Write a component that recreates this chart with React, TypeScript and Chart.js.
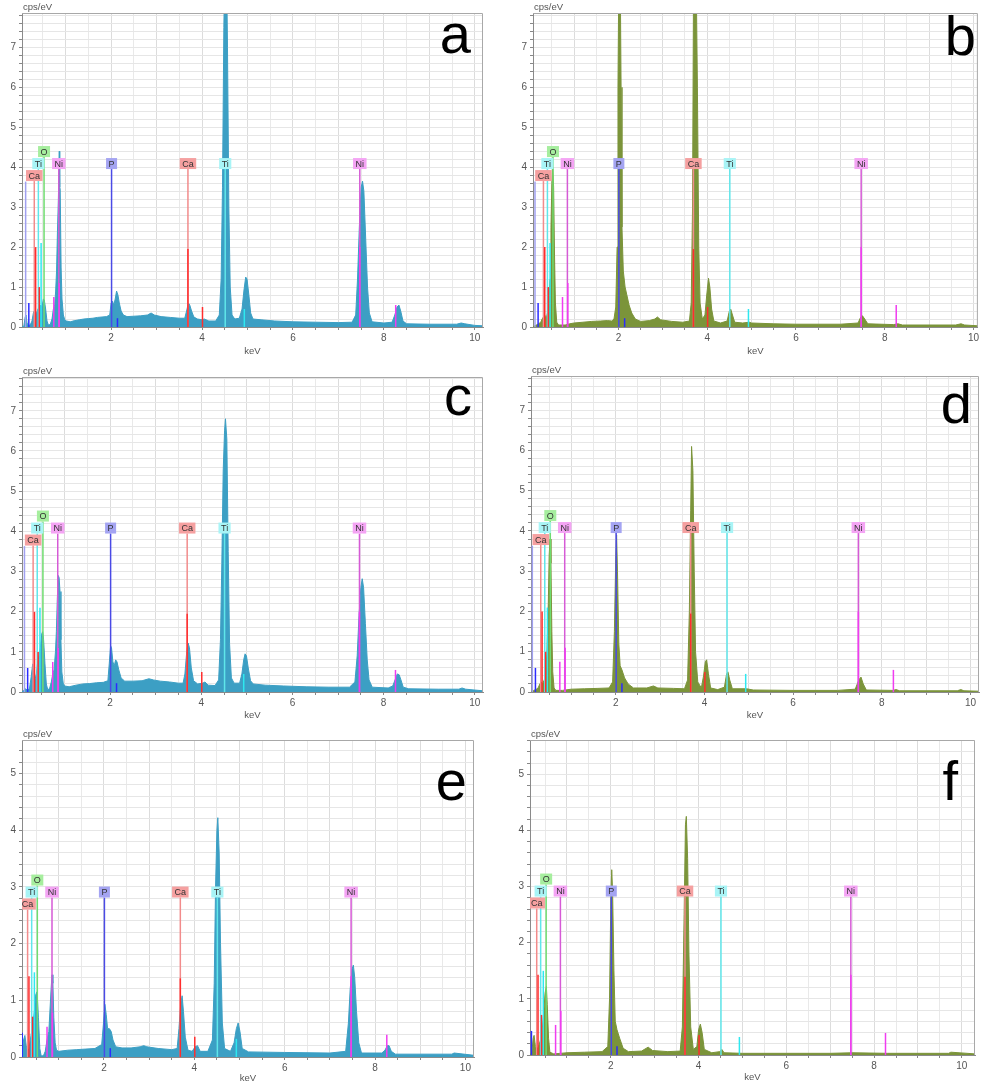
import React, { useEffect, useRef } from 'react';
import { Chart, registerables } from 'chart.js';

Chart.register(...registerables);

const FONT = '"Liberation Sans", Arial, Helvetica, sans-serif';
Chart.defaults.font.family = FONT;

const BLUE = '#3c9fc4';
const OLIVE = '#7b943a';

// ---------- spectra: [keV, cps/eV] ----------
const specA: [number, number][] = [
  [0.04, 0], [0.08, 0.02], [0.11, 0.25], [0.13, 0.3], [0.15, 0.1], [0.18, 0.04], [0.22, 0.05], [0.26, 0.15],
  [0.29, 0.35], [0.31, 0.4], [0.33, 0.3], [0.36, 0.35], [0.39, 0.45], [0.42, 0.5], [0.45, 0.55], [0.48, 0.5],
  [0.51, 0.7], [0.53, 0.68], [0.56, 0.45], [0.59, 0.15], [0.62, 0.05], [0.66, 0.06], [0.7, 0.2], [0.73, 0.45],
  [0.76, 0.55], [0.78, 0.9], [0.8, 1.4], [0.82, 2.4], [0.84, 3.2], [0.86, 4.4], [0.87, 3.5], [0.88, 3.45],
  [0.9, 1.5], [0.92, 0.7], [0.95, 0.3], [0.98, 0.18], [1.02, 0.15], [1.1, 0.13], [1.2, 0.16], [1.3, 0.18],
  [1.4, 0.2], [1.5, 0.21], [1.6, 0.22], [1.7, 0.24], [1.8, 0.25], [1.9, 0.26], [1.97, 0.3], [2.0, 0.6],
  [2.03, 0.65], [2.06, 0.55], [2.09, 0.7], [2.12, 0.9], [2.15, 0.8], [2.18, 0.6], [2.22, 0.4], [2.27, 0.3],
  [2.35, 0.26], [2.5, 0.27], [2.65, 0.28], [2.8, 0.3], [2.88, 0.35], [2.95, 0.3], [3.1, 0.26], [3.3, 0.24],
  [3.5, 0.22], [3.62, 0.22], [3.66, 0.4], [3.7, 0.6], [3.73, 0.55], [3.77, 0.4], [3.82, 0.25], [3.9, 0.2],
  [4.0, 0.18], [4.05, 0.2], [4.15, 0.15], [4.3, 0.15], [4.38, 0.3], [4.42, 1.2], [4.45, 3.5], [4.48, 7.5],
  [4.5, 9], [4.54, 9], [4.56, 7], [4.59, 3.0], [4.62, 1.0], [4.66, 0.3], [4.72, 0.2], [4.82, 0.22],
  [4.88, 0.45], [4.92, 0.9], [4.96, 1.25], [4.99, 1.2], [5.03, 0.8], [5.07, 0.35], [5.12, 0.2], [5.3, 0.18],
  [5.6, 0.15], [6.0, 0.13], [6.5, 0.12], [7.0, 0.11], [7.3, 0.12], [7.38, 0.3], [7.42, 1.2], [7.46, 2.5],
  [7.5, 3.5], [7.53, 3.65], [7.56, 3.4], [7.6, 2.2], [7.64, 1.0], [7.68, 0.35], [7.74, 0.13], [8.0, 0.1],
  [8.18, 0.12], [8.24, 0.3], [8.29, 0.5], [8.33, 0.55], [8.37, 0.4], [8.42, 0.15], [8.5, 0.08], [9.0, 0.07],
  [9.6, 0.07], [9.7, 0.1], [9.78, 0.08], [10.0, 0.04], [10.18, 0.03],
];

const specB: [number, number][] = [
  [0.075, 0], [0.1, 0.02], [0.15, 0.05], [0.2, 0.08], [0.25, 0.12], [0.28, 0.2], [0.31, 0.25], [0.34, 0.3],
  [0.37, 0.2], [0.4, 0.35], [0.43, 0.5], [0.46, 1.2], [0.48, 2.5], [0.5, 3.6], [0.52, 4.0], [0.54, 3.5],
  [0.56, 1.8], [0.58, 0.6], [0.61, 0.12], [0.65, 0.05], [0.8, 0.05], [0.9, 0.08], [1.0, 0.1], [1.2, 0.12],
  [1.4, 0.14], [1.6, 0.15], [1.75, 0.16], [1.85, 0.15], [1.9, 0.2], [1.94, 0.5], [1.97, 2.0], [1.99, 6.0],
  [2.01, 9], [2.04, 9], [2.06, 6], [2.08, 2.5], [2.11, 1.4], [2.15, 1.0], [2.19, 0.8], [2.24, 0.55],
  [2.3, 0.35], [2.38, 0.2], [2.5, 0.14], [2.7, 0.16], [2.82, 0.2], [2.88, 0.25], [2.95, 0.18], [3.2, 0.14],
  [3.45, 0.12], [3.6, 0.15], [3.64, 0.6], [3.67, 3.0], [3.69, 8], [3.71, 9], [3.75, 9], [3.78, 6],
  [3.81, 2], [3.84, 0.6], [3.89, 0.2], [3.95, 0.3], [3.99, 0.8], [4.03, 1.22], [4.06, 1.0], [4.1, 0.45],
  [4.15, 0.15], [4.3, 0.1], [4.45, 0.15], [4.5, 0.4], [4.53, 0.45], [4.57, 0.3], [4.62, 0.12], [4.8, 0.1],
  [4.95, 0.12], [5.0, 0.1], [5.5, 0.08], [6.0, 0.07], [7.0, 0.07], [7.4, 0.1], [7.46, 0.25], [7.5, 0.28],
  [7.55, 0.2], [7.62, 0.08], [8.2, 0.06], [8.3, 0.08], [8.4, 0.05], [9.6, 0.05], [9.72, 0.08], [9.8, 0.05],
  [10.1, 0.03],
];

const specC: [number, number][] = [
  [0.066, 0], [0.1, 0.04], [0.14, 0.08], [0.18, 0.05], [0.23, 0.08], [0.27, 0.4], [0.3, 0.7], [0.32, 0.45],
  [0.35, 0.3], [0.38, 0.45], [0.41, 0.75], [0.44, 0.9], [0.47, 1.1], [0.5, 1.45], [0.52, 1.5], [0.54, 1.3],
  [0.57, 0.7], [0.6, 0.2], [0.63, 0.06], [0.67, 0.08], [0.71, 0.25], [0.74, 0.45], [0.77, 0.55], [0.8, 1.0],
  [0.82, 1.5], [0.84, 2.3], [0.86, 2.9], [0.88, 2.85], [0.9, 2.5], [0.92, 1.3], [0.94, 0.5], [0.97, 0.22],
  [1.0, 0.15], [1.1, 0.13], [1.25, 0.17], [1.4, 0.2], [1.55, 0.21], [1.7, 0.23], [1.85, 0.24], [1.95, 0.28],
  [1.98, 0.7], [2.01, 1.15], [2.03, 1.1], [2.06, 0.75], [2.09, 0.65], [2.12, 0.8], [2.15, 0.75], [2.19, 0.55],
  [2.24, 0.35], [2.32, 0.27], [2.5, 0.27], [2.7, 0.28], [2.85, 0.33], [2.95, 0.3], [3.1, 0.27], [3.3, 0.25],
  [3.5, 0.22], [3.6, 0.22], [3.64, 0.45], [3.68, 1.0], [3.71, 1.22], [3.74, 1.1], [3.78, 0.6], [3.83, 0.28],
  [3.92, 0.2], [4.03, 0.22], [4.08, 0.25], [4.15, 0.17], [4.3, 0.16], [4.38, 0.3], [4.42, 1.3], [4.45, 3.2],
  [4.48, 5.5], [4.51, 6.5], [4.53, 6.8], [4.56, 6.3], [4.59, 3.5], [4.62, 1.2], [4.66, 0.35], [4.72, 0.22],
  [4.84, 0.22], [4.89, 0.45], [4.93, 0.8], [4.96, 0.95], [4.99, 0.9], [5.03, 0.6], [5.08, 0.28], [5.14, 0.2],
  [5.4, 0.17], [5.8, 0.15], [6.3, 0.13], [6.8, 0.12], [7.25, 0.12], [7.37, 0.25], [7.42, 0.9], [7.46, 1.9],
  [7.5, 2.6], [7.53, 2.82], [7.56, 2.6], [7.6, 1.7], [7.64, 0.8], [7.68, 0.3], [7.75, 0.12], [8.1, 0.1],
  [8.2, 0.15], [8.25, 0.3], [8.3, 0.45], [8.34, 0.43], [8.38, 0.3], [8.43, 0.12], [8.55, 0.08], [9.2, 0.07],
  [9.65, 0.07], [9.72, 0.1], [9.8, 0.07], [10.18, 0.03],
];

const specD: [number, number][] = [
  [0.09, 0], [0.15, 0.04], [0.2, 0.06], [0.25, 0.1], [0.29, 0.2], [0.32, 0.25], [0.35, 0.2], [0.39, 0.3],
  [0.42, 0.45], [0.45, 1.0], [0.48, 2.2], [0.5, 3.4], [0.52, 3.8], [0.54, 3.2], [0.56, 1.5], [0.58, 0.5],
  [0.61, 0.1], [0.65, 0.04], [0.8, 0.04], [1.0, 0.07], [1.3, 0.08], [1.6, 0.09], [1.85, 0.1], [1.93, 0.25],
  [1.97, 1.5], [2.0, 3.3], [2.02, 3.9], [2.04, 3.0], [2.07, 1.2], [2.1, 0.65], [2.14, 0.55], [2.2, 0.35],
  [2.28, 0.2], [2.4, 0.1], [2.7, 0.1], [2.85, 0.15], [2.95, 0.1], [3.3, 0.09], [3.55, 0.08], [3.62, 0.3],
  [3.66, 2.0], [3.69, 4.5], [3.71, 6.1], [3.74, 5.5], [3.77, 3.0], [3.8, 1.0], [3.85, 0.25], [3.93, 0.1],
  [3.98, 0.4], [4.02, 0.75], [4.05, 0.8], [4.09, 0.45], [4.14, 0.1], [4.3, 0.06], [4.45, 0.12], [4.5, 0.45],
  [4.53, 0.5], [4.57, 0.3], [4.63, 0.08], [4.95, 0.08], [5.1, 0.05], [6.0, 0.04], [7.0, 0.04], [7.4, 0.07],
  [7.48, 0.3], [7.53, 0.37], [7.58, 0.2], [7.65, 0.05], [8.25, 0.04], [8.32, 0.06], [8.4, 0.03], [9.7, 0.03],
  [9.78, 0.06], [9.85, 0.03], [10.19, 0.02],
];

const specE: [number, number][] = [
  [0.186, 0.05], [0.22, 0.3], [0.25, 0.38], [0.28, 0.2], [0.31, 0.1], [0.34, 0.15], [0.37, 0.3], [0.4, 0.45],
  [0.43, 0.6], [0.46, 0.8], [0.49, 1.1], [0.52, 1.15], [0.55, 0.7], [0.58, 0.15], [0.61, 0.02], [0.66, 0.02],
  [0.7, 0.1], [0.74, 0.3], [0.78, 0.45], [0.81, 0.9], [0.83, 1.2], [0.85, 1.45], [0.87, 1.3], [0.89, 0.7],
  [0.92, 0.25], [0.95, 0.12], [1.0, 0.1], [1.2, 0.12], [1.4, 0.13], [1.6, 0.14], [1.8, 0.15], [1.95, 0.22],
  [1.99, 0.6], [2.02, 0.93], [2.05, 0.75], [2.08, 0.5], [2.12, 0.5], [2.16, 0.45], [2.2, 0.3], [2.26, 0.18],
  [2.4, 0.16], [2.6, 0.16], [2.8, 0.18], [2.88, 0.2], [2.95, 0.18], [3.2, 0.15], [3.5, 0.13], [3.62, 0.15],
  [3.66, 0.5], [3.7, 0.95], [3.73, 1.08], [3.76, 0.8], [3.8, 0.35], [3.86, 0.12], [3.95, 0.1], [4.02, 0.18],
  [4.07, 0.2], [4.13, 0.1], [4.3, 0.1], [4.4, 0.3], [4.44, 1.3], [4.47, 3.0], [4.5, 4.0], [4.52, 4.22],
  [4.55, 3.6], [4.58, 2.0], [4.62, 0.6], [4.67, 0.15], [4.8, 0.1], [4.88, 0.25], [4.93, 0.5], [4.97, 0.6],
  [5.01, 0.45], [5.06, 0.15], [5.2, 0.09], [6.0, 0.08], [7.0, 0.07], [7.35, 0.1], [7.41, 0.6], [7.45, 1.2],
  [7.49, 1.55], [7.52, 1.62], [7.55, 1.4], [7.59, 0.8], [7.64, 0.25], [7.7, 0.07], [8.15, 0.07], [8.22, 0.12],
  [8.27, 0.2], [8.31, 0.2], [8.36, 0.1], [8.45, 0.05], [9.7, 0.05], [9.75, 0.07], [10.19, 0.03],
];

const specF: [number, number][] = [
  [0.157, 0], [0.2, 0.05], [0.23, 0.3], [0.25, 0.35], [0.28, 0.15], [0.31, 0.08], [0.35, 0.15], [0.39, 0.25],
  [0.43, 0.4], [0.47, 0.75], [0.5, 1.1], [0.53, 1.22], [0.55, 0.9], [0.58, 0.3], [0.61, 0.05], [0.7, 0.02],
  [1.0, 0.04], [1.4, 0.05], [1.8, 0.06], [1.93, 0.15], [1.97, 1.0], [2.0, 2.8], [2.02, 3.3], [2.04, 2.9],
  [2.07, 1.5], [2.1, 0.6], [2.14, 0.45], [2.2, 0.3], [2.28, 0.12], [2.4, 0.06], [2.7, 0.07], [2.85, 0.14],
  [2.95, 0.08], [3.3, 0.06], [3.58, 0.07], [3.63, 0.5], [3.67, 2.5], [3.7, 4.1], [3.72, 4.25], [3.75, 3.5],
  [3.78, 1.8], [3.82, 0.5], [3.88, 0.1], [3.96, 0.15], [4.0, 0.45], [4.04, 0.55], [4.08, 0.4], [4.13, 0.1],
  [4.3, 0.04], [4.48, 0.06], [4.53, 0.1], [4.58, 0.04], [5.0, 0.03], [6.0, 0.03], [7.0, 0.03], [7.5, 0.04],
  [8.3, 0.03], [9.7, 0.03], [9.75, 0.05], [10.3, 0.02],
];

// ---------- element markers ----------
const markerLabels = ['Ca', 'Ti', 'O', 'Ni', 'P', 'Ca', 'Ti', 'Ni'];
const markerKeV = [0.31, 0.40, 0.525, 0.85, 2.01, 3.69, 4.51, 7.47];
const markerRow = [-1, 0, 1, 0, 0, 0, 0, 0];

// secondary lines; heights in cps/eV on the 7.86 reference axis (scaled with each panel's axis)
const REF_MAX = 7.86;
const minorEl = ['Pl', 'P', 'Ca', 'Ca', 'Ti', 'Ni', 'Ni', 'P', 'Ca', 'Ca', 'Ti', 'Ni', 'Ni'];
const minorKeV = [0.12, 0.19, 0.34, 0.42, 0.46, 0.74, 0.86, 2.14, 3.69, 4.01, 4.93, 7.47, 8.26];
const minorH = [3.64, 0.6, 2.0, 1.0, 2.1, 0.75, 1.1, 0.22, 1.95, 0.5, 0.45, 2.0, 0.55];

const EL: Record<string, { line: string; bright: string; box: string }> = {
  Ca: { line: '#f28b8b', bright: '#ff2d2d', box: '#f5a0a0' },
  Ti: { line: '#5fe6ea', bright: '#2ee8f0', box: '#a8f4f6' },
  O: { line: '#6fdc6f', bright: '#3fcf3f', box: '#a6ee9e' },
  Ni: { line: '#d65ad6', bright: '#f03cf0', box: '#f4a4f4' },
  P: { line: '#4a4ae6', bright: '#2b2bff', box: '#a4a4f2' },
  Pl: { line: '#a0a0f0', bright: '#a0a0f0', box: '#a4a4f2' },
};

type Panel = {
  id: string;
  data: [number, number][];
  color: string;
  box: [number, number, number, number];
  area: [number, number, number, number];
  xMin: number;
  xMax: number;
  yMax: number;
  letter: [number, number];
  kevOff: number;
};

const panels: Panel[] = [
  { id: 'a', data: specA, color: BLUE, box: [0, 0, 490, 362], area: [22, 13, 483, 327], xMin: 0.04, xMax: 10.18, yMax: 7.86, letter: [471, 53], kevOff: 24 },
  { id: 'b', data: specB, color: OLIVE, box: [490, 0, 491, 362], area: [533, 13, 981, 327], xMin: 0.075, xMax: 10.1, yMax: 7.86, letter: [976, 55], kevOff: 24 },
  { id: 'c', data: specC, color: BLUE, box: [0, 362, 490, 366], area: [22, 377, 483, 692], xMin: 0.066, xMax: 10.18, yMax: 7.84, letter: [472, 415], kevOff: 23 },
  { id: 'd', data: specD, color: OLIVE, box: [490, 362, 491, 366], area: [531, 376, 979, 692], xMin: 0.09, xMax: 10.19, yMax: 7.85, letter: [972, 423], kevOff: 23 },
  { id: 'e', data: specE, color: BLUE, box: [0, 728, 490, 360], area: [22, 740, 474, 1057], xMin: 0.186, xMax: 10.19, yMax: 5.59, letter: [467, 800], kevOff: 21 },
  { id: 'f', data: specF, color: OLIVE, box: [490, 728, 491, 360], area: [530, 740, 975, 1055], xMin: 0.157, xMax: 10.3, yMax: 5.61, letter: [958, 800], kevOff: 22 },
];

const LABEL_FRAC = 0.503;

function makeOverlay(p: Panel) {
  return {
    id: 'overlay_' + p.id,
    afterDatasetsDraw(chart: any) {
      const { ctx, chartArea: ca, scales } = chart;
      const xs = scales.x;
      const ys = scales.y;
      const y0 = ys.getPixelForValue(0);
      const H = ca.bottom - ca.top;
      const k = p.yMax / REF_MAX;
      const rowBottom = (r: number) => ca.bottom - LABEL_FRAC * H - r * 12;
      ctx.save();
      ctx.beginPath();
      ctx.rect(ca.left, ca.top, ca.right - ca.left, ca.bottom - ca.top);
      ctx.clip();
      ctx.lineWidth = 1.5;
      markerKeV.forEach((e, i) => {
        const px = xs.getPixelForValue(e);
        ctx.strokeStyle = EL[markerLabels[i]].line;
        ctx.beginPath();
        ctx.moveTo(px, rowBottom(markerRow[i]));
        ctx.lineTo(px, y0);
        ctx.stroke();
      });
      minorKeV.forEach((e, i) => {
        const px = xs.getPixelForValue(e);
        const top = ys.getPixelForValue(minorH[i] * k);
        ctx.strokeStyle = EL[minorEl[i]].bright;
        ctx.beginPath();
        ctx.moveTo(px, top);
        ctx.lineTo(px, y0);
        ctx.stroke();
      });
      ctx.font = '9px ' + FONT;
      ctx.textAlign = 'center';
      ctx.textBaseline = 'middle';
      markerKeV.forEach((e, i) => {
        const lab = markerLabels[i];
        const px = xs.getPixelForValue(e);
        const b = rowBottom(markerRow[i]);
        const w = ctx.measureText(lab).width + 5;
        ctx.fillStyle = EL[lab].box;
        ctx.fillRect(px - w / 2, b - 11, w, 11);
        ctx.fillStyle = '#333';
        ctx.fillText(lab, px, b - 5);
      });
      ctx.restore();
    },
    afterDraw(chart: any) {
      const { ctx, chartArea: ca } = chart;
      ctx.save();
      ctx.strokeStyle = '#a8a8a8';
      ctx.lineWidth = 1;
      ctx.beginPath();
      ctx.moveTo(ca.left, ca.top + 0.5);
      ctx.lineTo(ca.right - 0.5, ca.top + 0.5);
      ctx.lineTo(ca.right - 0.5, ca.bottom);
      ctx.stroke();
      ctx.fillStyle = '#555';
      ctx.font = '9.5px ' + FONT;
      ctx.textAlign = 'left';
      ctx.textBaseline = 'middle';
      ctx.fillText('cps/eV', ca.left + 1, ca.top - 6);
      ctx.textAlign = 'center';
      ctx.fillText('keV', (ca.left + ca.right) / 2, ca.bottom + p.kevOff);
      ctx.fillStyle = '#000';
      ctx.font = '56px ' + FONT;
      ctx.textAlign = 'right';
      ctx.textBaseline = 'alphabetic';
      ctx.fillText(p.id, p.letter[0] - p.box[0], p.letter[1] - p.box[1]);
      ctx.restore();
    },
  };
}

const isInt = (v: number) => Math.abs(v - Math.round(v)) < 1e-6;

function SpectrumPanel({ p }: { p: Panel }) {
  const ref = useRef<HTMLCanvasElement | null>(null);
  useEffect(() => {
    const [bx, by, bw, bh] = p.box;
    const [al, at, ar, ab] = p.area;
    const chart = new Chart(ref.current as HTMLCanvasElement, {
      type: 'line',
      data: {
        datasets: [
          {
            data: p.data.map(([x, y]) => ({ x, y })),
            borderColor: p.color,
            backgroundColor: p.color,
            fill: 'origin',
            borderWidth: 1,
            pointRadius: 0,
            tension: 0,
          },
        ],
      },
      options: {
        animation: false,
        responsive: false,
        events: [],
        layout: { padding: { top: at - by, right: bx + bw - ar, left: 0, bottom: 0 } },
        plugins: { legend: { display: false }, tooltip: { enabled: false } },
        scales: {
          x: {
            type: 'linear',
            min: p.xMin,
            max: p.xMax,
            afterFit: (s: any) => {
              s.height = by + bh - ab;
            },
            ticks: {
              stepSize: 0.5,
              autoSkip: false,
              maxRotation: 0,
              includeBounds: false,
              color: '#555',
              font: { size: 10, family: FONT },
              padding: 2,
              callback: (v: any) => {
                const n = Number(v);
                return isInt(n) && Math.round(n) % 2 === 0 ? String(Math.round(n)) : '';
              },
            },
            grid: {
              color: (c: any) => (c.tick && isInt(c.tick.value) ? '#dcdcdc' : '#e9e9e9'),
              tickLength: 3,
              tickColor: '#888',
            },
            border: { color: '#8a8a8a' },
          },
          y: {
            min: 0,
            max: p.yMax,
            afterFit: (s: any) => {
              s.width = al - bx;
            },
            ticks: {
              stepSize: 0.2,
              autoSkip: false,
              includeBounds: false,
              color: '#555',
              font: { size: 10, family: FONT },
              padding: 3,
              callback: (v: any) => {
                const n = Number(v);
                return isInt(n) ? String(Math.round(n)) : '';
              },
            },
            grid: {
              color: '#e6e6e6',
              tickLength: 3,
              tickColor: '#888',
            },
            border: { color: '#8a8a8a' },
          },
        },
      },
      plugins: [makeOverlay(p)],
    } as any);
    return () => chart.destroy();
  }, [p]);
  const [bx, by, bw, bh] = p.box;
  return (
    <canvas
      ref={ref}
      width={bw}
      height={bh}
      style={{ position: 'absolute', left: bx, top: by, width: bw, height: bh, display: 'block' }}
    />
  );
}

export default function App() {
  return (
    <div style={{ position: 'absolute', left: 0, top: 0, width: 981, height: 1088, background: '#fff', overflow: 'hidden' }}>
      {panels.map((p) => (
        <SpectrumPanel key={p.id} p={p} />
      ))}
    </div>
  );
}
